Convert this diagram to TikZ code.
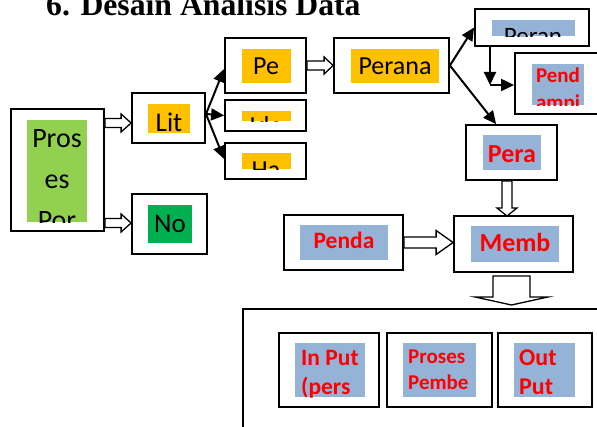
\documentclass[tikz,border=0pt]{standalone}
\usepackage{fontspec}
\setmainfont{Carlito}
\newfontfamily\titlefont{Liberation Serif}
\usetikzlibrary{arrows.meta,fit,calc}
\definecolor{yel}{HTML}{FFC000}
\definecolor{lgreen}{HTML}{92D050}
\definecolor{dgreen}{HTML}{00B050}
\definecolor{lblue}{HTML}{95B3D7}
\definecolor{tred}{HTML}{FF0000}
\newcommand\harr[5]{\draw[blk] let \p1=(#1), \p2=(#2) in (\x1,\y2+#3) -- (\x2-#5,\y2+#3) -- (\x2-#5,\y2+#4) -- (\x2,\y2) -- (\x2-#5,\y2-#4) -- (\x2-#5,\y2-#3) -- (\x1,\y2-#3) -- cycle;}
\newcommand\varr[5]{\draw[blk] let \p1=(#1), \p2=(#2) in (\x2-#3,\y1) -- (\x2-#3,\y2+#5) -- (\x2-#4,\y2+#5) -- (\x2,\y2) -- (\x2+#4,\y2+#5) -- (\x2+#3,\y2+#5) -- (\x2+#3,\y1) -- cycle;}
\begin{document}
\begin{tikzpicture}[x=1pt,y=-1pt,
  bx/.style={draw=black, line width=1.8pt, inner sep=0pt, fill=white},
  fl/.style={inner sep=0pt, draw=none},
  blk/.style={draw=black, fill=white, line width=1.3pt, line join=miter},
  sarr/.style={draw=black, line width=2pt, -{Triangle[length=13pt,width=12pt]}},
  tb/.style={inner sep=0pt, anchor=base, text=black},
  tr/.style={inner sep=0pt, anchor=base, text=tred, font=\bfseries},
  trl/.style={inner sep=0pt, anchor=base west, text=tred, font=\bfseries}]
\clip (0,0) rectangle (597,427);
\fill[white] (0,0) rectangle (597,427);
% title
\node[inner sep=0pt, anchor=base west, font=\titlefont\bfseries\fontsize{31.7}{32}\selectfont] (title) at (46,16) {6. Desain Analisis Data};
% boxes
\node[bx, fit={(11,109) (104,231)}] (pros) {};
\node[bx, fit={(132,93) (205,143)}] (lit) {};
\node[bx, fit={(225,38) (306,93)}] (pe) {};
\node[bx, fit={(225,100) (306,131)}] (mid) {};
\node[bx, fit={(225,143) (306,179)}] (ha) {};
\node[bx, fit={(132,194) (207,254)}] (no) {};
\node[bx, fit={(334,38) (449,93)}] (perana) {};
\node[bx, fit={(475,9) (589,46)}] (peran) {};
\node[bx, fit={(515,53) (603,114)}] (pend) {};
\node[bx, fit={(466,125) (557,180)}] (pera) {};
\node[bx, fit={(454,216) (573,272)}] (memb) {};
\node[bx, fit={(284,215) (403,270)}] (penda) {};
\node[bx, fit={(243,309) (606,440)}] (big) {};
\node[bx, fit={(279,333) (379,407)}] (inp) {};
\node[bx, fit={(387,333) (492,407)}] (prc) {};
\node[bx, fit={(498,333) (592,407)}] (outp) {};
% fills
\node[fl, fill=lgreen, fit={(27,120) (87,222)}] (prosf) {};
\node[fl, fill=yel, fit={(148,104) (190,133)}] (litf) {};
\node[fl, fill=yel, fit={(242,49) (291,83)}] (pef) {};
\node[fl, fill=yel, fit={(242,111) (291,121)}] (midf) {};
\node[fl, fill=yel, fit={(242,153) (291,169)}] (haf) {};
\node[fl, fill=dgreen, fit={(148,205) (192,243)}] (nof) {};
\node[fl, fill=yel, fit={(351,49) (439,83)}] (peranaf) {};
\node[fl, fill=lblue, fit={(492,20) (575,36)}] (peranf) {};
\node[fl, fill=lblue, fit={(532,64) (584,105)}] (pendf) {};
\node[fl, fill=lblue, fit={(483,135) (541,170)}] (peraf) {};
\node[fl, fill=lblue, fit={(471,226) (559,262)}] (membf) {};
\node[fl, fill=lblue, fit={(300,225) (388,260)}] (pendaf) {};
\node[fl, fill=lblue, fit={(295,343) (365,397)}] (inpf) {};
\node[fl, fill=lblue, fit={(403,343) (476,397)}] (prcf) {};
\node[fl, fill=lblue, fit={(514,343) (575,397)}] (outpf) {};
% clipped texts
\begin{scope}\clip (prosf.south west) rectangle (prosf.north east);
\node[tb, font=\fontsize{28}{28}\selectfont] (t1) at (57,148) {Pros};
\node[tb, font=\fontsize{28}{28}\selectfont] (t2) at (57,189) {es};
\node[tb, font=\fontsize{28}{28}\selectfont] (t3) at (57,230) {Por};
\end{scope}
\begin{scope}\clip (litf.south west) rectangle (litf.north east);
\node[tb, font=\fontsize{27}{27}\selectfont] (t4) at (169,132) {Lit};
\end{scope}
\begin{scope}\clip (pef.south west) rectangle (pef.north east);
\node[tb, font=\fontsize{26}{26}\selectfont] (t5) at (266,75) {Pe};
\end{scope}
\begin{scope}\clip (midf.south west) rectangle (midf.north east);
\node[tb, font=\fontsize{26}{26}\selectfont] (t6) at (266,135) {Ide};
\end{scope}
\begin{scope}\clip (haf.south west) rectangle (haf.north east);
\node[tb, font=\fontsize{26}{26}\selectfont] (t7) at (266,179) {Ha};
\end{scope}
\begin{scope}\clip (nof.south west) rectangle (nof.north east);
\node[tb, font=\fontsize{27}{27}\selectfont] (t8) at (170,233) {No};
\end{scope}
\begin{scope}\clip (peranaf.south west) rectangle (peranaf.north east);
\node[tb, font=\fontsize{26}{26}\selectfont] (t9) at (395,75) {Perana};
\end{scope}
\begin{scope}\clip (peranf.south west) rectangle (peranf.north east);
\node[tb, font=\fontsize{25}{25}\selectfont] (t10) at (533,45) {Peran};
\end{scope}
\begin{scope}\clip (pendf.south west) rectangle (pendf.north east);
\node[tr, font=\bfseries\fontsize{21}{21}\selectfont] (t11) at (558,83) {Pend};
\node[tr, font=\bfseries\fontsize{21}{21}\selectfont] (t12) at (558,110) {ampi};
\end{scope}
\begin{scope}\clip (peraf.south west) rectangle (peraf.north east);
\node[tr, font=\bfseries\fontsize{26}{26}\selectfont] (t13) at (512,163) {Pera};
\end{scope}
\begin{scope}\clip (membf.south west) rectangle (membf.north east);
\node[tr, font=\bfseries\fontsize{26}{26}\selectfont] (t14) at (515,252) {Memb};
\end{scope}
\begin{scope}\clip (pendaf.south west) rectangle (pendaf.north east);
\node[tr, font=\bfseries\fontsize{23.5}{23.5}\selectfont] (t15) at (344,249) {Penda};
\end{scope}
\begin{scope}\clip (inpf.south west) rectangle (inpf.north east);
\node[trl, font=\bfseries\fontsize{23.5}{23.5}\selectfont] (t16) at (301,366) {In Put};
\node[trl, font=\bfseries\fontsize{23.5}{23.5}\selectfont] (t17) at (301,395) {(pers};
\end{scope}
\begin{scope}\clip (prcf.south west) rectangle (prcf.north east);
\node[trl, font=\bfseries\fontsize{21}{21}\selectfont] (t18) at (408,364) {Proses};
\node[trl, font=\bfseries\fontsize{21}{21}\selectfont] (t19) at (408,390) {Pembe};
\end{scope}
\begin{scope}\clip (outpf.south west) rectangle (outpf.north east);
\node[trl, font=\bfseries\fontsize{24}{24}\selectfont] (t20) at (519,366) {Out};
\node[trl, font=\bfseries\fontsize{24}{24}\selectfont] (t21) at (519,395) {Put};
\end{scope}
% block arrows
\harr{pros.east |- 0,123}{lit.west |- 0,123}{4.5pt}{9pt}{10pt}
\harr{pros.east |- 0,223}{no.west |- 0,223}{4.5pt}{9pt}{10pt}
\harr{pe.east}{perana.west |- pe.east}{4.5pt}{8.5pt}{9pt}
\harr{penda.east |- 0,242.5}{memb.west |- 0,242.5}{5.5pt}{12pt}{17pt}
\coordinate (pa1) at (507,181);
\coordinate (pa2) at (507,216);
\varr{pa1}{pa2}{5pt}{10pt}{8pt}
\coordinate (ma1) at (511.5,276);
\coordinate (ma2) at (511.5,305);
\varr{ma1}{ma2}{18.5pt}{36.5pt}{8pt}
% solid arrows
\coordinate (litpt) at (206,114);
\draw[sarr] (litpt) -- ($(pe.west)+(0,3.5)$);
\draw[sarr] (litpt) -- (mid.west);
\draw[sarr] (litpt) -- ($(ha.west)+(0,-2)$);
\draw[sarr] (perana.east) -- (peran.west);
\draw[sarr] (perana.east) -- ($(pera.north west)+(31,0)$);
\coordinate (bend) at (490,85);
\draw[sarr] (peran.south -| bend) -- (bend);
\draw[sarr] (bend) -- (pend.west |- bend);
\end{tikzpicture}
\end{document}
